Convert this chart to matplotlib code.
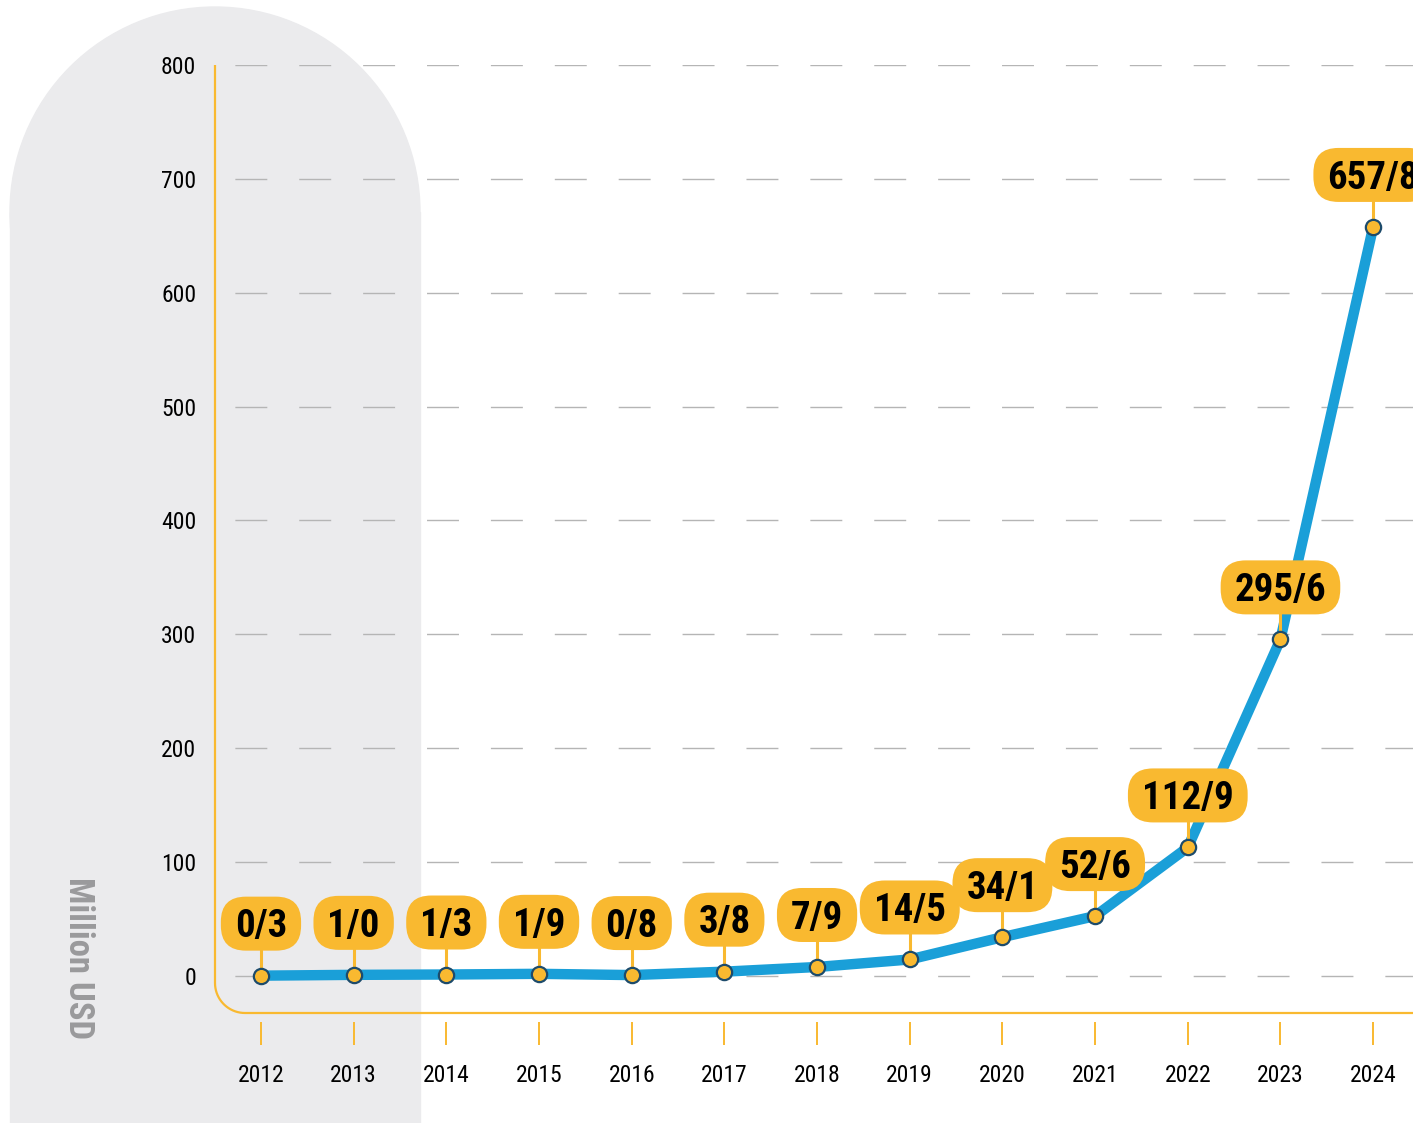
import numpy as np
import matplotlib
matplotlib.use("Agg")
import matplotlib.pyplot as plt
from matplotlib.patches import Ellipse, Rectangle, FancyBboxPatch, PathPatch
from matplotlib.path import Path
from matplotlib.lines import Line2D
from matplotlib.transforms import IdentityTransform, offset_copy

# data
years = [2012, 2013, 2014, 2015, 2016, 2017, 2018, 2019, 2020, 2021, 2022, 2023, 2024]
values = [0.3, 1.0, 1.3, 1.9, 0.8, 3.8, 7.9, 14.5, 34.1, 52.6, 112.9, 295.6, 657.8]
labels = ["0/3", "1/0", "1/3", "1/9", "0/8", "3/8", "7/9", "14/5", "34/1", "52/6", "112/9", "295/6", "657/8"]
yticks = [0, 100, 200, 300, 400, 500, 600, 700, 800]

YELLOW = "#f9b930"
BLUE = "#1a9fd8"
DARK = "#1d4b6b"
GREY_BG = "#ebebed"

plt.rcParams['font.family'] = ['Roboto Condensed', 'DejaVu Sans']
plt.rcParams['font.stretch'] = 'condensed'
plt.rcParams['lines.scale_dashes'] = False

W, H = 1413, 1123
fig = plt.figure(figsize=(W / 100, H / 100), dpi=100)

# grey rounded backdrop on the left
cx, cy, r = 215, 212, 205
fig.patches.append(Ellipse((cx / W, 1 - cy / H), 2 * r / W, 2 * r / H,
                           transform=fig.transFigure, color=GREY_BG, zorder=-1))
fig.patches.append(Rectangle(((cx - r) / W, 0), 2 * r / W, 1 - cy / H,
                             transform=fig.transFigure, color=GREY_BG, zorder=-1))

# axes box in pixels
left, right, top, bottom = 215, 1413, 65, 1013
ax = fig.add_axes([left / W, 1 - bottom / H, (right - left) / W, (bottom - top) / H])
ax.set_zorder(1)
ax.set_facecolor("none")
ax.set_xlim(2011.504, 2024.43)
ax.set_ylim(-32.5, 800)

for s in ax.spines.values():
    s.set_visible(False)
ax.spines['bottom'].set_position(('outward', 6.5))

ax.set_yticks(yticks)
ax.set_yticklabels([str(v) for v in yticks])
ax.set_xticks(years)
ax.set_xticklabels([str(y) for y in years])
ax.tick_params(axis='y', length=0, pad=13.5, labelsize=17)
ax.tick_params(axis='x', direction='out', length=16.5, width=1.4, color=YELLOW,
               pad=14, labelsize=17)

# dashed grid
ax.grid(axis='y', color="#b5b5b5", linewidth=1.0,
        linestyle=(31.7, (23, 23)), zorder=1)
ax.grid(axis='x', visible=False)
ax.set_axisbelow(True)

# yellow frame with rounded bottom-left corner
aw, ah = right - left, bottom - top
rad = 30
t = np.linspace(np.pi, 1.5 * np.pi, 20)
arc_x = (rad + rad * np.cos(t)) / aw
arc_y = (rad + rad * np.sin(t)) / ah
verts = [(0, 1)] + list(zip(arc_x, arc_y)) + [(1, 0)]
ax.add_patch(PathPatch(Path(verts), transform=ax.transAxes, fill=False,
                       edgecolor=YELLOW, linewidth=1.6, clip_on=False, zorder=2))

# series
ax.plot(years, values, color=BLUE, linewidth=7.5, solid_capstyle='butt',
        zorder=4, clip_on=False)
ax.plot(years, values, linestyle='none', marker='o', markersize=11,
        markerfacecolor=YELLOW, markeredgecolor=DARK, markeredgewidth=1.6,
        zorder=7, clip_on=False)

# value labels: pill boxes 52 px above each point
box_off, box_h, cap_h = 52, 54, 27.5
texts = []
for x, v, lab in zip(years, values, labels):
    tr = offset_copy(ax.transData, fig=fig, x=0, y=box_off - cap_h / 2, units='dots')
    texts.append(ax.text(x, v, lab, transform=tr, ha='center', va='baseline',
                         fontsize=28, fontweight='bold', color='black',
                         zorder=6, clip_on=False))

fig.canvas.draw()
renderer = fig.canvas.get_renderer()
for txt, x, v in zip(texts, years, values):
    bb = txt.get_window_extent(renderer)
    px, py = ax.transData.transform((x, v))
    w = bb.width + 28
    yc = py + box_off
    ax.add_artist(FancyBboxPatch((px - w / 2, yc - box_h / 2), w, box_h,
                                 boxstyle="round,pad=0,rounding_size=25",
                                 transform=IdentityTransform(), fc=YELLOW, ec='none',
                                 zorder=5, clip_on=False))
    ax.add_artist(Line2D([px, px], [py, yc - box_h / 2], transform=IdentityTransform(),
                         color=YELLOW, linewidth=2.2, zorder=5, clip_on=False))

fig.text(78 / W, 1 - 958 / H, "Million USD", rotation=-90, ha='center', va='center',
         fontsize=25, color="#9a9a9c", fontweight='bold')

fig.savefig("out.png", dpi=100)
